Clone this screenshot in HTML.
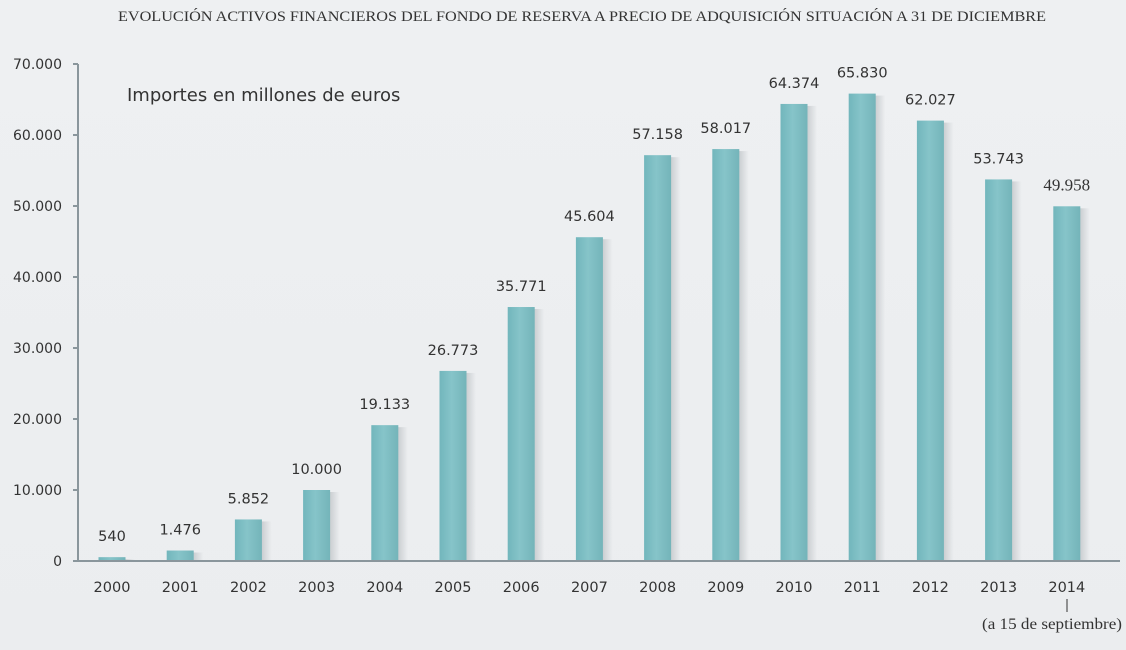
<!DOCTYPE html>
<html><head><meta charset="utf-8"><style>
body{margin:0;width:1126px;height:650px;background:#edeff1;overflow:hidden}
svg{display:block}
text{font-family:"DejaVu Sans","Liberation Sans",sans-serif;fill:#333}
.serif{font-family:"Liberation Serif",serif}
</style></head><body>
<svg id="chart" width="1126" height="650">
<defs>
<linearGradient id="bg" x1="0" y1="0" x2="0" y2="1"><stop offset="0" stop-color="#eef0f2"/><stop offset="1" stop-color="#ebedef"/></linearGradient>
<linearGradient id="bar" x1="0" y1="0" x2="1" y2="0"><stop offset="0" stop-color="#72b6bc"/><stop offset="0.45" stop-color="#86c4c9"/><stop offset="1" stop-color="#74b4b9"/></linearGradient>
<linearGradient id="sh" x1="0" y1="0" x2="1" y2="0"><stop offset="0" stop-color="#c9cdd0"/><stop offset="1" stop-color="#c9cdd0" stop-opacity="0"/></linearGradient>
</defs>
<rect width="1126" height="650" fill="url(#bg)"/>
<text class="serif" x="118" y="21" font-size="15" textLength="928" lengthAdjust="spacingAndGlyphs" fill="#333">EVOLUCIÓN ACTIVOS FINANCIEROS DEL FONDO DE RESERVA A PRECIO DE ADQUISICIÓN SITUACIÓN A 31 DE DICIEMBRE</text>
<text x="127" y="101" font-size="18" fill="#444">Importes en millones de euros</text>
<g id="ticks"></g><g id="bars"></g><g id="labels"></g>
<line x1="78" y1="64" x2="78" y2="561" stroke="#8a969c" stroke-width="2"/>
<line x1="73" y1="561" x2="1120" y2="561" stroke="#8a969c" stroke-width="2"/>
<line x1="1067" y1="599" x2="1067" y2="612" stroke="#333" stroke-width="1"/>
<text class="serif" x="982" y="629" font-size="16" textLength="140" lengthAdjust="spacingAndGlyphs">(a 15 de septiembre)</text>
</svg>
<script>
const categories=["2000","2001","2002","2003","2004","2005","2006","2007","2008","2009","2010","2011","2012","2013","2014"];
const values=[540,1476,5852,10000,19133,26773,35771,45604,57158,58017,64374,65830,62027,53743,49958];
const valueLabels=["540","1.476","5.852","10.000","19.133","26.773","35.771","45.604","57.158","58.017","64.374","65.830","62.027","53.743","49.958"];
const yTicks=[0,10000,20000,30000,40000,50000,60000,70000];
const yTickLabels=["0","10.000","20.000","30.000","40.000","50.000","60.000","70.000"];
const NS="http://www.w3.org/2000/svg";
const y=v=>561-v*(497/70000);
const x=i=>112+i*68.2;
function mk(tag,attrs,parent,txt){const e=document.createElementNS(NS,tag);for(const k in attrs)e.setAttribute(k,attrs[k]);if(txt!==undefined)e.textContent=txt;parent.appendChild(e);return e;}
const tg=document.getElementById('ticks'),bg=document.getElementById('bars'),lg=document.getElementById('labels');
yTicks.forEach((t,i)=>{
  const l=mk('line',{x1:73,x2:78,y1:y(t),y2:y(t),stroke:'#8a969c','stroke-width':2},tg);
  
  
  const tx=mk('text',{x:62,y:y(t)+5,'text-anchor':'end','font-size':14,fill:'#333'},tg,yTickLabels[i]);
  
  
});
values.forEach((v,i)=>{
  const cx=x(i),top=y(v),h=561-top;
  const s=mk('rect',{x:cx+13,y:top+2,width:10,height:h-2,fill:'url(#sh)'},bg);
  
  
  const r=mk('rect',{x:cx-13.5,y:top,width:27,height:h,fill:'url(#bar)'},bg);
  
  
  const vl=mk('text',{x:cx,y:top-16,'text-anchor':'middle','font-size':14.5},lg,valueLabels[i]);
  if(i===14){vl.setAttribute('class','serif');vl.setAttribute('font-size','17');}
  
  
  const cl=mk('text',{x:cx,y:592,'text-anchor':'middle','font-size':14.5},lg,categories[i]);
  
  
});
</script>
</body></html>
